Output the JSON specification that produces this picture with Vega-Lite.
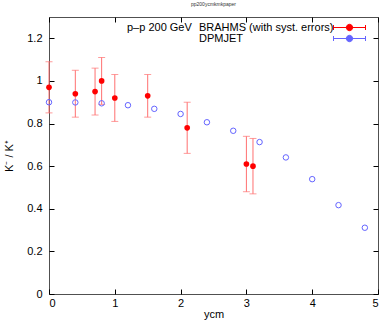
{
  "$schema": "https://vega.github.io/schema/vega-lite/v6.json",
  "width": 329,
  "height": 277,
  "autosize": {"type": "none"},
  "padding": {"left": 49, "top": 17, "right": 4, "bottom": 33},
  "background": "white",
  "config": {
    "font": "Liberation Sans",
    "view": {"stroke": "#505050", "strokeWidth": 1},
    "axis": {"grid": false, "domain": false, "tickColor": "#000", "labelColor": "#000", "labelFontSize": 11, "titleFontSize": 11, "titleFontWeight": "normal", "titleColor": "#000", "labelFont": "Liberation Sans", "titleFont": "Liberation Sans"}
  },
  "title": {"text": "pp200ycmkmkpaper", "fontSize": 5, "fontWeight": "normal", "color": "#333", "anchor": "middle", "offset": 10},
  "datasets": {
    "brahms": [
      {"ycm": 0.0, "ratio": 0.97, "lo": 0.85, "hi": 1.09},
      {"ycm": 0.4, "ratio": 0.94, "lo": 0.83, "hi": 1.05},
      {"ycm": 0.7, "ratio": 0.95, "lo": 0.84, "hi": 1.06},
      {"ycm": 0.8, "ratio": 1.00, "lo": 0.89, "hi": 1.11},
      {"ycm": 1.0, "ratio": 0.92, "lo": 0.81, "hi": 1.03},
      {"ycm": 1.5, "ratio": 0.93, "lo": 0.83, "hi": 1.03},
      {"ycm": 2.1, "ratio": 0.78, "lo": 0.66, "hi": 0.90},
      {"ycm": 3.0, "ratio": 0.61, "lo": 0.48, "hi": 0.74},
      {"ycm": 3.1, "ratio": 0.60, "lo": 0.47, "hi": 0.73}
    ],
    "dpmjet": [
      {"ycm": 0.0, "ratio": 0.900},
      {"ycm": 0.4, "ratio": 0.899},
      {"ycm": 0.8, "ratio": 0.895},
      {"ycm": 1.2, "ratio": 0.886},
      {"ycm": 1.6, "ratio": 0.869},
      {"ycm": 2.0, "ratio": 0.845},
      {"ycm": 2.4, "ratio": 0.806},
      {"ycm": 2.8, "ratio": 0.766},
      {"ycm": 3.2, "ratio": 0.713},
      {"ycm": 3.6, "ratio": 0.641},
      {"ycm": 4.0, "ratio": 0.539},
      {"ycm": 4.4, "ratio": 0.417},
      {"ycm": 4.8, "ratio": 0.311}
    ]
  },
  "resolve": {"axis": {"x": "independent", "y": "independent"}},
  "layer": [
    {
      "data": {"name": "brahms"},
      "mark": {"type": "errorbar", "color": "#ff7070", "ticks": {"size": 7, "color": "#ff7070"}},
      "encoding": {
        "x": {"field": "ycm", "type": "quantitative", "scale": {"domain": [0, 5], "nice": false},
              "axis": {"orient": "bottom", "values": [0, 1, 2, 3, 4, 5], "format": "~g", "tickSize": -5, "labelPadding": 8, "title": "ycm", "titlePadding": 0}},
        "y": {"field": "lo", "type": "quantitative", "scale": {"domain": [0, 1.3], "nice": false},
              "axis": {"orient": "left", "values": [0, 0.2, 0.4, 0.6, 0.8, 1, 1.2], "format": "~g", "tickSize": -5, "labelPadding": 12, "title": "K⁻ / K⁺", "titlePadding": 12}},
        "y2": {"field": "hi"}
      }
    },
    {
      "data": {"name": "dpmjet"},
      "mark": {"type": "point", "filled": false, "size": 30, "strokeWidth": 1, "opacity": 1},
      "encoding": {
        "x": {"field": "ycm", "type": "quantitative", "axis": {"orient": "top", "values": [0, 1, 2, 3, 4, 5], "labels": false, "tickSize": -5, "title": null}},
        "y": {"field": "ratio", "type": "quantitative", "axis": {"orient": "right", "values": [0, 0.2, 0.4, 0.6, 0.8, 1, 1.2], "labels": false, "tickSize": -5, "title": null}},
        "color": {"datum": "DPMJET", "type": "nominal",
          "scale": {"domain": ["BRAHMS (with syst. errors)", "DPMJET"], "range": ["#ff0000", "#6464ff"]},
          "legend": {
            "orient": "none", "legendX": 78, "legendY": 5,
            "title": "p–p 200 GeV", "titleOrient": "left", "titleAnchor": "start", "titleBaseline": "top", "titlePadding": 152,
            "titleFontSize": 11, "titleFontWeight": "normal", "titleColor": "#000", "titleFont": "Liberation Sans",
            "labelFontSize": 11, "labelColor": "#000", "labelFont": "Liberation Sans", "labelAlign": "left", "labelOffset": -156,
            "symbolSize": 100, "rowPadding": -8, "symbolStrokeWidth": 1,
            "symbolType": "M-3.2,0L3.2,0M-3.2,-0.5L-3.2,0.5M3.2,-0.5L3.2,0.5M0.64,0A0.64,0.64,0,1,1,-0.64,0A0.64,0.64,0,1,1,0.64,0Z",
            "encode": {"symbols": {
              "shape": {"condition": {"test": "datum.value == 'DPMJET'", "value": "M-3.2,0L-2.8,0M-2.4,0L-2,0M-1.6,0L-1.2,0M1.2,0L1.6,0M2,0L2.4,0M2.8,0L3.2,0M-3.2,-0.5L-3.2,0.5M3.2,-0.5L3.2,0.5M0.64,0A0.64,0.64,0,1,1,-0.64,0A0.64,0.64,0,1,1,0.64,0Z"}, "value": "M-3.2,0L3.2,0M-3.2,-0.5L-3.2,0.5M3.2,-0.5L3.2,0.5M0.64,0A0.64,0.64,0,1,1,-0.64,0A0.64,0.64,0,1,1,0.64,0Z"},
              "fill": {"condition": {"test": "datum.value == 'DPMJET'", "value": "transparent"}, "value": "#ff0000"},
              "stroke": {"condition": {"test": "datum.value == 'DPMJET'", "value": "#6464ff"}, "value": "#ff4040"},
              "strokeWidth": {"value": 1},
              "opacity": {"value": 1}
            }}
          }}
      }
    },
    {
      "data": {"name": "brahms"},
      "mark": {"type": "point", "filled": true, "size": 32, "opacity": 1},
      "encoding": {
        "x": {"field": "ycm", "type": "quantitative", "axis": null},
        "y": {"field": "ratio", "type": "quantitative", "axis": null},
        "color": {"datum": "BRAHMS (with syst. errors)", "type": "nominal", "legend": null}
      }
    }
  ]
}
